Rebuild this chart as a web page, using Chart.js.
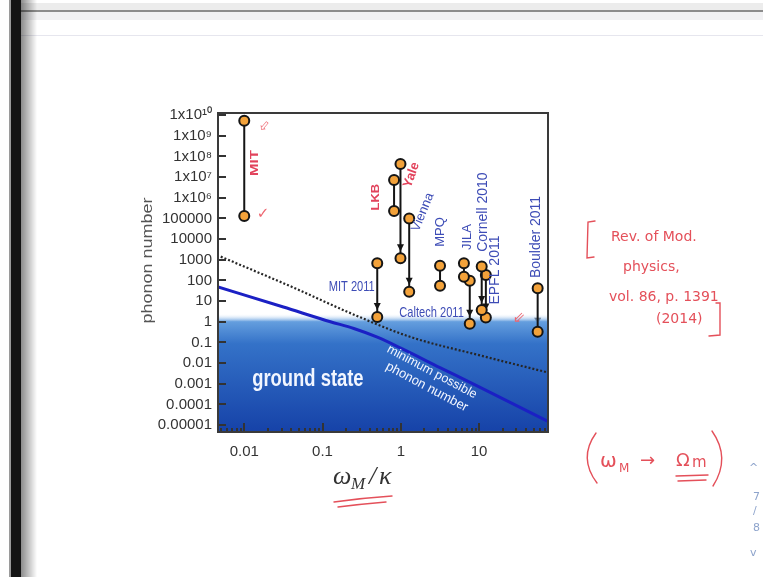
<!DOCTYPE html>
<html>
<head>
<meta charset="utf-8">
<script src="https://cdn.jsdelivr.net/npm/chart.js@4/dist/chart.umd.min.js"></script>
<style>
body { margin: 0; background: #fff; width: 763px; height: 577px; overflow: hidden; position: relative; }
#c { position: absolute; left: 0; top: 0; }
.edge { position: absolute; left: 9px; top: 0; width: 2px; height: 577px; background: #9a9a9a; }
.bar { position: absolute; left: 11px; top: 0; width: 10px; height: 577px; background: #141414; }
.shadow { position: absolute; left: 21px; top: 0; width: 16px; height: 577px; background: linear-gradient(to right, rgba(0,0,0,0.45), rgba(0,0,0,0)); }
.band1 { position: absolute; left: 11px; top: 3px; right: 0; height: 7px; background: #ececec; }
.line1 { position: absolute; left: 11px; top: 10px; right: 0; height: 2px; background: #8c8c8c; }
.band2 { position: absolute; left: 11px; top: 12px; right: 0; height: 8px; background: #f1f1f3; }
.line2 { position: absolute; left: 11px; top: 35px; right: 0; height: 1px; background: #e6e6ee; }
svg { position: absolute; left: 0; top: 0; }
</style>
</head>
<body>
<canvas id="c" width="763" height="577"></canvas>
<div class="band1"></div><div class="line1"></div><div class="band2"></div><div class="line2"></div>
<div class="edge"></div><div class="bar"></div><div class="shadow"></div>
<svg width="763" height="577" font-family="DejaVu Sans, sans-serif">
  <g stroke="#e4505a" stroke-width="1.4" fill="none" stroke-linecap="round">
    <path d="M334 502 Q 362 498 392 496"/>
    <path d="M338 507 Q 362 504 386 502"/>
    <path d="M595 221 L 588 222 L 587 258 L 594 257"/>
    <path d="M709 336 L 720 335 L 720 303 L 716 303"/>
    <path d="M596 433 Q 578 458 597 483"/>
    <path d="M712 431 Q 731 458 713 486"/>
    <path d="M676 476 L 708 475"/>
    <path d="M678 481 L 706 480"/>
  </g>
  <g fill="#e4505a" font-size="14">
    <text x="611" y="241">Rev. of Mod.</text>
    <text x="623" y="271">physics,</text>
    <text x="609" y="301">vol. 86, p. 1391</text>
    <text x="656" y="323">(2014)</text>
    <text x="600" y="467" font-size="20">ω</text>
    <text x="619" y="472" font-size="12">M</text>
    <text x="640" y="466" font-size="18">→</text>
    <text x="676" y="466" font-size="18">Ω</text>
    <text x="692" y="467" font-size="15">m</text>
  </g>
  <g fill="#8ea4cc" font-size="11">
    <text x="749" y="471">^</text>
    <text x="753" y="500">7</text>
    <text x="753" y="514">/</text>
    <text x="753" y="531">8</text>
    <text x="750" y="556">v</text>
  </g>
</svg>
<script>
// measured cooling runs: start and final phonon number vs omega_M / kappa
const experiments = ['MIT', 'LKB', 'Yale', 'Vienna', 'MIT 2011', 'MPQ', 'JILA', 'Caltech 2011', 'Cornell 2010', 'EPFL 2011', 'Boulder 2011'];
const omegaOverKappa = [0.01, 0.82, 0.99, 1.28, 0.50, 3.17, 6.4, 7.6, 10.8, 12.2, 56];
const phononsBefore = [5.3e9, 7.2e6, 4.3e7, 1.0e5, 680, 510, 680, 95, 470, 180, 42];
const phononsAfter = [1.3e5, 2.3e5, 1170, 28, 1.7, 55, 150, 0.8, 3.7, 1.6, 0.33];
const hasArrow = [false, false, true, true, true, false, false, true, true, true, true];

// minimum possible phonon number (solid blue)
const minLimitX = [0.00462, 0.0316, 0.126, 0.251, 0.501, 1, 3.16, 10, 75.9];
const minLimitY = [47.9, 5.13, 1.0, 0.468, 0.178, 0.0525, 0.00603, 0.000708, 0.0000148];

// dotted curve
const dottedX = [0.00501, 0.0398, 0.26, 1.31, 10, 75.9];
const dottedY = [1410, 50.1, 2.09, 0.186, 0.024, 0.00347];

const groundLevel = 1;
const fadeTop = 2.5;

const xRange = [0.00462, 75.9];
const yRange = [4.6e-6, 1.26e10];

const xTickValues = [0.01, 0.1, 1, 10];
const xTickLabels = ['0.01', '0.1', '1', '10'];
const yTickValues = [1e-5, 1e-4, 1e-3, 1e-2, 1e-1, 1, 10, 100, 1e3, 1e4, 1e5, 1e6, 1e7, 1e8, 1e9, 1e10];
const yTickLabels = ['0.00001', '0.0001', '0.001', '0.01', '0.1', '1', '10', '100', '1000', '10000', '100000',
  '1x10\u2076', '1x10\u2077', '1x10\u2078', '1x10\u2079', '1x10\u00b9\u2070'];

const red = '#e2435c';
const blue = '#3d4cb6';
const sans = "'Liberation Sans', Arial, sans-serif";

const labelItems = [
  { text: 'MIT', x: 0.0137, y: 4.8e7, angle: -90, color: red, font: 'bold 15px ' + sans, squish: 0.78 },
  { text: 'LKB', x: 0.48, y: 1.07e6, angle: -90, color: red, font: 'bold 13px ' + sans, squish: 0.85 },
  { text: 'Yale', x: 1.37, y: 1.26e7, angle: -70, color: red, font: 'bold 13px ' + sans },
  { text: 'Vienna', x: 1.91, y: 2.0e5, angle: -68, color: blue, font: '13px ' + sans },
  { text: 'MPQ', x: 3.16, y: 2.2e4, angle: -90, color: blue, font: '13px ' + sans },
  { text: 'JILA', x: 7.0, y: 1.26e4, angle: -90, color: blue, font: '13px ' + sans },
  { text: 'Cornell 2010', x: 11.1, y: 2.0e5, angle: -90, color: blue, font: '14px ' + sans },
  { text: 'EPFL 2011', x: 15.8, y: 316, angle: -90, color: blue, font: '14px ' + sans },
  { text: 'Boulder 2011', x: 54, y: 1.26e4, angle: -90, color: blue, font: '14px ' + sans },
  { text: 'MIT 2011', x: 0.236, y: 49, angle: 0, color: blue, font: '15px ' + sans, squish: 0.74 },
  { text: 'Caltech 2011', x: 2.47, y: 2.6, angle: 0, color: blue, font: '15px ' + sans, squish: 0.74 },
  { text: 'ground state', x: 0.065, y: 0.0015, angle: 0, color: '#f2f6ff', font: 'bold 23px ' + sans, squish: 0.8 },
  { text: 'minimum possible', x: 2.5, y: 0.0037, angle: 28, color: '#f2f6ff', font: '12.5px ' + sans },
  { text: 'phonon number', x: 2.15, y: 0.00069, angle: 28, color: '#f2f6ff', font: '13px ' + sans },
  { text: '\u21e6', x: 0.0184, y: 2.9e9, angle: -50, color: '#ee6670', font: '13px DejaVu Sans' },
  { text: '\u2713', x: 0.0174, y: 1.6e5, angle: 0, color: '#ee6670', font: '15px DejaVu Sans' },
  { text: '\u21d9', x: 32.4, y: 1.5, angle: 0, color: '#ee6670', font: '15px DejaVu Sans' }
];

function isDecade(v) {
  const l = Math.log10(v);
  return Math.abs(l - Math.round(l)) < 1e-6;
}

function groundFill(context) {
  const chart = context.chart;
  const a = chart.chartArea;
  if (!a) return 'rgba(0,0,0,0)';
  const y = chart.scales.y;
  const top = y.getPixelForValue(fadeTop);
  const one = y.getPixelForValue(groundLevel);
  const h = a.bottom - top;
  const g = chart.ctx.createLinearGradient(0, top, 0, a.bottom);
  g.addColorStop(0, 'rgba(255,255,255,0)');
  g.addColorStop((one - top) / h, 'rgb(100,158,222)');
  g.addColorStop(Math.min(1, (one - top + 22) / h), 'rgb(52,114,200)');
  g.addColorStop(1, 'rgb(22,66,168)');
  return g;
}

const datasets = [];
datasets.push({
  data: [{ x: xRange[0], y: fadeTop }, { x: xRange[1], y: fadeTop }],
  fill: 'start', backgroundColor: groundFill, borderWidth: 0, pointRadius: 0, order: 10
});
datasets.push({
  data: minLimitX.map((x, i) => ({ x: x, y: minLimitY[i] })),
  borderColor: '#1b20c4', borderWidth: 3, pointRadius: 0, cubicInterpolationMode: 'monotone', order: 6
});
datasets.push({
  data: dottedX.map((x, i) => ({ x: x, y: dottedY[i] })),
  borderColor: '#262626', borderWidth: 2.2, borderDash: [2, 2], pointRadius: 0, cubicInterpolationMode: 'monotone', order: 5
});
experiments.forEach((name, i) => {
  datasets.push({
    label: name,
    data: [{ x: omegaOverKappa[i], y: phononsBefore[i] }, { x: omegaOverKappa[i], y: phononsAfter[i] }],
    borderColor: '#151515', borderWidth: 2,
    pointRadius: 5, pointBackgroundColor: '#f3a23a', pointBorderColor: '#151515', pointBorderWidth: 2,
    order: 1
  });
});

const axisDecor = {
  id: 'axisDecor',
  beforeDatasetsDraw(chart) {
    // arrows are drawn under the circles
    const { ctx, scales: { x, y } } = chart;
    ctx.save();
    ctx.fillStyle = '#151515';
    experiments.forEach((name, i) => {
      if (!hasArrow[i]) return;
      const px = x.getPixelForValue(omegaOverKappa[i]);
      const py = y.getPixelForValue(phononsAfter[i]) - 7;
      ctx.beginPath();
      ctx.moveTo(px, py);
      ctx.lineTo(px - 3.5, py - 7);
      ctx.lineTo(px + 3.5, py - 7);
      ctx.closePath();
      ctx.fill();
    });
    ctx.restore();
  },
  afterDatasetsDraw(chart) {
    const { ctx, chartArea: a, scales: { x, y } } = chart;
    ctx.save();
    ctx.strokeStyle = '#333';
    ctx.lineWidth = 2;
    ctx.beginPath();
    y.ticks.forEach(t => {
      const py = Math.round(y.getPixelForValue(t.value));
      ctx.moveTo(a.left, py);
      ctx.lineTo(a.left + 8, py);
    });
    x.ticks.forEach(t => {
      const px = Math.round(x.getPixelForValue(t.value));
      ctx.moveTo(px, a.bottom);
      ctx.lineTo(px, a.bottom - (isDecade(t.value) ? 9 : 4));
    });
    ctx.stroke();
    ctx.strokeStyle = '#3a3a3a';
    ctx.strokeRect(a.left, a.top, a.right - a.left, a.bottom - a.top);

    // labels inside the plot
    labelItems.forEach(l => {
      ctx.save();
      ctx.translate(x.getPixelForValue(l.x), y.getPixelForValue(l.y));
      ctx.scale(l.squish || 1, 1);
      ctx.rotate(l.angle * Math.PI / 180);
      ctx.font = l.font;
      ctx.fillStyle = l.color;
      ctx.textAlign = 'center';
      ctx.textBaseline = 'middle';
      ctx.fillText(l.text, 0, 0);
      ctx.restore();
    });

    // axis titles
    ctx.save();
    ctx.translate(a.left - 70, (a.top + a.bottom) / 2 - 12);
    ctx.scale(0.8, 1);
    ctx.rotate(-Math.PI / 2);
    ctx.font = '18px ' + sans;
    ctx.fillStyle = '#555';
    ctx.textAlign = 'center';
    ctx.textBaseline = 'middle';
    ctx.fillText('phonon number', 0, 0);
    ctx.restore();

    ctx.fillStyle = '#333';
    ctx.textBaseline = 'alphabetic';
    ctx.textAlign = 'left';
    ctx.font = "italic 26px 'Liberation Serif', serif";
    ctx.fillText('\u03c9', a.left + 115, a.bottom + 52);
    ctx.font = "italic 17px 'Liberation Serif', serif";
    ctx.fillText('M', a.left + 133, a.bottom + 57);
    ctx.font = "italic 26px 'Liberation Serif', serif";
    ctx.fillText('/', a.left + 151, a.bottom + 52);
    ctx.fillText('\u03ba', a.left + 161, a.bottom + 52);
    ctx.restore();
  }
};

new Chart(document.getElementById('c'), {
  type: 'line',
  data: { datasets: datasets },
  options: {
    responsive: false,
    animation: false,
    layout: { padding: { left: 136, right: 215, top: 113, bottom: 0 } },
    plugins: { legend: { display: false }, tooltip: { enabled: false } },
    scales: {
      x: {
        type: 'logarithmic',
        min: xRange[0], max: xRange[1],
        afterFit: s => { s.height = 145; },
        afterBuildTicks: s => {
          const t = [];
          for (let e = -3; e <= 1; e++) {
            for (let m = 1; m <= 9; m++) {
              const v = m * Math.pow(10, e);
              if (v >= s.min && v <= s.max) t.push({ value: v });
            }
          }
          s.ticks = t;
        },
        ticks: {
          autoSkip: false, maxRotation: 0, padding: 11, color: '#333',
          font: { family: sans, size: 15 },
          callback: v => {
            const i = xTickValues.findIndex(t => Math.abs(Math.log10(t) - Math.log10(v)) < 1e-6);
            return i >= 0 ? xTickLabels[i] : '';
          }
        },
        grid: { display: false, drawTicks: false },
        border: { display: false }
      },
      y: {
        type: 'logarithmic',
        min: yRange[0], max: yRange[1],
        afterFit: s => { s.width = 82; },
        afterBuildTicks: s => { s.ticks = yTickValues.map(v => ({ value: v })); },
        ticks: {
          autoSkip: false, padding: 6, color: '#333',
          font: { family: sans, size: 15 },
          callback: v => {
            const i = yTickValues.findIndex(t => Math.abs(Math.log10(t) - Math.log10(v)) < 1e-6);
            return i >= 0 ? yTickLabels[i] : '';
          }
        },
        grid: { display: false, drawTicks: false },
        border: { display: false }
      }
    }
  },
  plugins: [axisDecor]
});
</script>
</body>
</html>
